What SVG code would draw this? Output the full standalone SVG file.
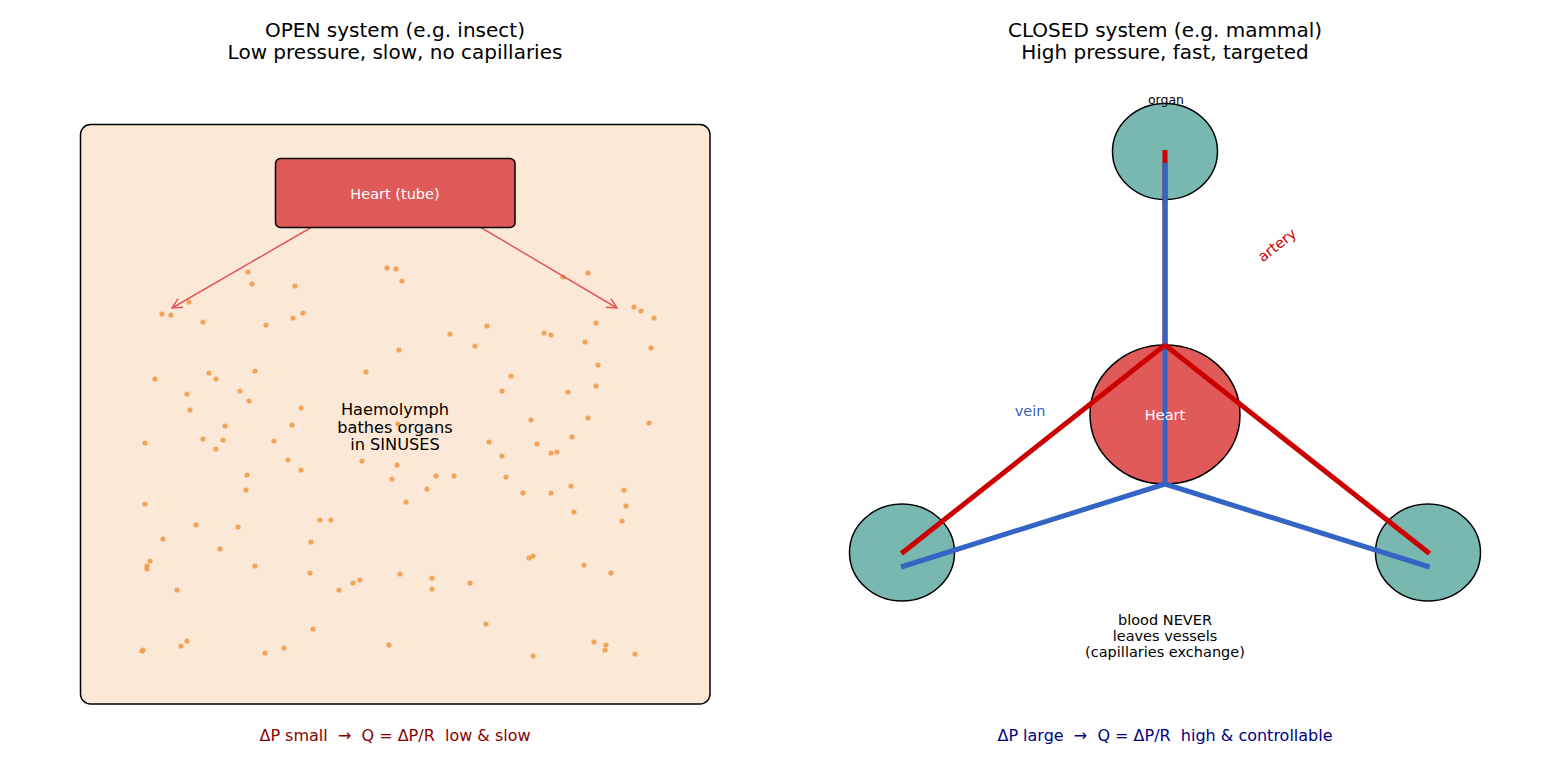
<svg xmlns="http://www.w3.org/2000/svg" width="1560" height="780" viewBox="0 0 1560 780">
<style>
text{font-family:"DejaVu Sans","Liberation Sans",sans-serif;text-anchor:middle;white-space:pre}
.title{font-size:20px;fill:#000}
.dot{fill:#ef9c4d;opacity:0.9}
.organ{fill:#79b7b1;stroke:#000;stroke-width:1.5}
.art{stroke:#cc0000;stroke-width:5;fill:none}
.vein{stroke:#3465c4;stroke-width:5;fill:none}
.lbl{font-size:14.5px}
</style>
<defs>
<marker id="ah" viewBox="0 0 12 12" refX="11" refY="6" markerWidth="12" markerHeight="12" markerUnits="userSpaceOnUse" orient="auto">
<path d="M1,1 L11,6 L1,11" fill="none" stroke="#e05a5a" stroke-width="1.5"/>
</marker>
</defs>
<rect width="1560" height="780" fill="#fff"/>
<g id="titles">
<text class="title" x="395" y="37">OPEN system (e.g. insect)</text>
<text class="title" x="395" y="59">Low pressure, slow, no capillaries</text>
<text class="title" x="1165" y="37">CLOSED system (e.g. mammal)</text>
<text class="title" x="1165" y="59">High pressure, fast, targeted</text>
</g>
<g id="open-body">
<rect x="80.5" y="124.5" width="629.5" height="579.5" rx="10" fill="#fce8d6" stroke="#000" stroke-width="1.5"/>
</g>
<g id="dots">
<circle class="dot" cx="248" cy="272" r="2.6"/><circle class="dot" cx="252" cy="284" r="2.6"/><circle class="dot" cx="295" cy="286" r="2.6"/><circle class="dot" cx="387" cy="268" r="2.6"/><circle class="dot" cx="396" cy="269" r="2.6"/><circle class="dot" cx="402" cy="281" r="2.6"/><circle class="dot" cx="563" cy="277" r="2.6"/><circle class="dot" cx="588" cy="273" r="2.6"/>
<circle class="dot" cx="189" cy="302" r="2.6"/><circle class="dot" cx="162" cy="314" r="2.6"/><circle class="dot" cx="171" cy="315" r="2.6"/><circle class="dot" cx="203" cy="322" r="2.6"/><circle class="dot" cx="266" cy="325" r="2.6"/><circle class="dot" cx="293" cy="318" r="2.6"/><circle class="dot" cx="303" cy="313" r="2.6"/>
<circle class="dot" cx="450" cy="334" r="2.6"/><circle class="dot" cx="487" cy="326" r="2.6"/><circle class="dot" cx="544" cy="333" r="2.6"/><circle class="dot" cx="551" cy="335" r="2.6"/><circle class="dot" cx="596" cy="323" r="2.6"/><circle class="dot" cx="634" cy="307" r="2.6"/><circle class="dot" cx="641" cy="311" r="2.6"/><circle class="dot" cx="654" cy="318" r="2.6"/>
<circle class="dot" cx="585" cy="342" r="2.6"/><circle class="dot" cx="651" cy="348" r="2.6"/><circle class="dot" cx="399" cy="350" r="2.6"/><circle class="dot" cx="475" cy="346" r="2.6"/><circle class="dot" cx="598" cy="365" r="2.6"/>
<circle class="dot" cx="155" cy="379" r="2.6"/><circle class="dot" cx="209" cy="373" r="2.6"/><circle class="dot" cx="216" cy="379" r="2.6"/><circle class="dot" cx="255" cy="371" r="2.6"/><circle class="dot" cx="366" cy="372" r="2.6"/><circle class="dot" cx="511" cy="376" r="2.6"/><circle class="dot" cx="596" cy="386" r="2.6"/>
<circle class="dot" cx="187" cy="394" r="2.6"/><circle class="dot" cx="240" cy="391" r="2.6"/><circle class="dot" cx="249" cy="401" r="2.6"/><circle class="dot" cx="502" cy="391" r="2.6"/><circle class="dot" cx="568" cy="392" r="2.6"/>
<circle class="dot" cx="190" cy="410" r="2.6"/><circle class="dot" cx="301" cy="408" r="2.6"/><circle class="dot" cx="588" cy="418" r="2.6"/><circle class="dot" cx="649" cy="423" r="2.6"/><circle class="dot" cx="531" cy="420" r="2.6"/>
<circle class="dot" cx="225" cy="426" r="2.6"/><circle class="dot" cx="292" cy="425" r="2.6"/><circle class="dot" cx="398" cy="424" r="2.6"/>
<circle class="dot" cx="145" cy="443" r="2.6"/><circle class="dot" cx="203" cy="439" r="2.6"/><circle class="dot" cx="223" cy="440" r="2.6"/><circle class="dot" cx="274" cy="441" r="2.6"/><circle class="dot" cx="216" cy="449" r="2.6"/><circle class="dot" cx="489" cy="442" r="2.6"/><circle class="dot" cx="537" cy="444" r="2.6"/><circle class="dot" cx="572" cy="437" r="2.6"/>
<circle class="dot" cx="551" cy="453" r="2.6"/><circle class="dot" cx="557" cy="452" r="2.6"/><circle class="dot" cx="502" cy="456" r="2.6"/><circle class="dot" cx="288" cy="460" r="2.6"/><circle class="dot" cx="362" cy="461" r="2.6"/><circle class="dot" cx="397" cy="465" r="2.6"/><circle class="dot" cx="301" cy="470" r="2.6"/><circle class="dot" cx="392" cy="479" r="2.6"/>
<circle class="dot" cx="436" cy="476" r="2.6"/><circle class="dot" cx="454" cy="476" r="2.6"/><circle class="dot" cx="506" cy="477" r="2.6"/><circle class="dot" cx="247" cy="475" r="2.6"/><circle class="dot" cx="246" cy="490" r="2.6"/><circle class="dot" cx="427" cy="489" r="2.6"/><circle class="dot" cx="523" cy="493" r="2.6"/><circle class="dot" cx="551" cy="493" r="2.6"/><circle class="dot" cx="571" cy="486" r="2.6"/><circle class="dot" cx="624" cy="490" r="2.6"/>
<circle class="dot" cx="406" cy="502" r="2.6"/><circle class="dot" cx="145" cy="504" r="2.6"/><circle class="dot" cx="626" cy="506" r="2.6"/><circle class="dot" cx="574" cy="512" r="2.6"/><circle class="dot" cx="320" cy="520" r="2.6"/><circle class="dot" cx="331" cy="520" r="2.6"/><circle class="dot" cx="622" cy="521" r="2.6"/><circle class="dot" cx="196" cy="525" r="2.6"/><circle class="dot" cx="238" cy="527" r="2.6"/>
<circle class="dot" cx="163" cy="539" r="2.6"/><circle class="dot" cx="311" cy="542" r="2.6"/><circle class="dot" cx="220" cy="549" r="2.6"/><circle class="dot" cx="150" cy="561" r="2.6"/><circle class="dot" cx="147" cy="566" r="2.6"/><circle class="dot" cx="147" cy="569" r="2.6"/><circle class="dot" cx="255" cy="566" r="2.6"/><circle class="dot" cx="529" cy="558" r="2.6"/><circle class="dot" cx="533" cy="556" r="2.6"/>
<circle class="dot" cx="584" cy="565" r="2.6"/><circle class="dot" cx="611" cy="573" r="2.6"/><circle class="dot" cx="310" cy="573" r="2.6"/><circle class="dot" cx="400" cy="574" r="2.6"/><circle class="dot" cx="432" cy="578" r="2.6"/><circle class="dot" cx="432" cy="589" r="2.6"/><circle class="dot" cx="470" cy="583" r="2.6"/><circle class="dot" cx="353" cy="583" r="2.6"/><circle class="dot" cx="360" cy="580" r="2.6"/><circle class="dot" cx="339" cy="590" r="2.6"/><circle class="dot" cx="177" cy="590" r="2.6"/>
<circle class="dot" cx="313" cy="629" r="2.6"/><circle class="dot" cx="486" cy="624" r="2.6"/><circle class="dot" cx="142" cy="651" r="2.6"/><circle class="dot" cx="143" cy="650" r="2.6"/><circle class="dot" cx="181" cy="646" r="2.6"/><circle class="dot" cx="187" cy="641" r="2.6"/><circle class="dot" cx="265" cy="653" r="2.6"/><circle class="dot" cx="284" cy="648" r="2.6"/><circle class="dot" cx="389" cy="645" r="2.6"/><circle class="dot" cx="533" cy="656" r="2.6"/><circle class="dot" cx="594" cy="642" r="2.6"/><circle class="dot" cx="606" cy="645" r="2.6"/><circle class="dot" cx="605" cy="650" r="2.6"/><circle class="dot" cx="635" cy="654" r="2.6"/>
</g>
<g id="open-connectors">
<line x1="312" y1="227" x2="172" y2="308" stroke="#e05a5a" stroke-width="1.5" marker-end="url(#ah)"/>
<line x1="480" y1="227" x2="617" y2="308" stroke="#e05a5a" stroke-width="1.5" marker-end="url(#ah)"/>
</g>
<g id="heart-tube">
<rect x="275.5" y="158.5" width="239.5" height="69" rx="5" fill="#e05a5a" stroke="#000" stroke-width="1.5"/>
<text class="lbl" x="395" y="198.5" fill="#fff">Heart (tube)</text>
</g>
<g id="haemolymph-label">
<text x="395" y="415" font-size="16.2" fill="#000">Haemolymph</text>
<text x="395" y="432.5" font-size="16.2" fill="#000">bathes organs</text>
<text x="395" y="450" font-size="16.2" fill="#000">in SINUSES</text>
</g>
<g id="heart">
<ellipse cx="1165" cy="414.5" rx="75" ry="69.5" fill="#e05a5a" stroke="#000" stroke-width="1.5"/>
</g>
<g id="organ-top">
<ellipse class="organ" cx="1165" cy="151.5" rx="52.5" ry="48"/>
<text x="1166" y="103.5" font-size="12.5" fill="#000">organ</text>
</g>
<g id="organ-left">
<ellipse class="organ" cx="902" cy="552.5" rx="52.5" ry="48.5"/>
</g>
<g id="organ-right">
<ellipse class="organ" cx="1428" cy="552.5" rx="52.5" ry="48.5"/>
</g>
<g id="vessels">
<line class="art" x1="1165" y1="345" x2="1165" y2="150"/>
<line class="vein" x1="1165" y1="163" x2="1165" y2="484"/>
<line class="art" x1="1165" y1="345" x2="901.5" y2="553.5"/>
<line class="vein" x1="901" y1="567" x2="1165" y2="484"/>
<line class="art" x1="1165" y1="345" x2="1429.5" y2="553.5"/>
<line class="vein" x1="1429.5" y1="567" x2="1165" y2="484"/>
</g>
<g id="closed-labels">
<text class="lbl" x="1165" y="420" fill="#fff">Heart</text>
<text class="lbl" x="1030" y="416" fill="#3465b8">vein</text>
<text class="lbl" fill="#cc0000" transform="translate(1277,245) rotate(-38)" y="5">artery</text>
<text class="lbl" x="1165" y="625" fill="#000">blood NEVER</text>
<text class="lbl" x="1165" y="641" fill="#000">leaves vessels</text>
<text class="lbl" x="1165" y="657" fill="#000">(capillaries exchange)</text>
</g>
<g id="footers">
<text x="395" y="741" font-size="16" fill="#8b0000" xml:space="preserve">ΔP small  →  Q = ΔP/R  low &amp; slow</text>
<text x="1165" y="741" font-size="16" fill="#000080" xml:space="preserve">ΔP large  →  Q = ΔP/R  high &amp; controllable</text>
</g>
</svg>
